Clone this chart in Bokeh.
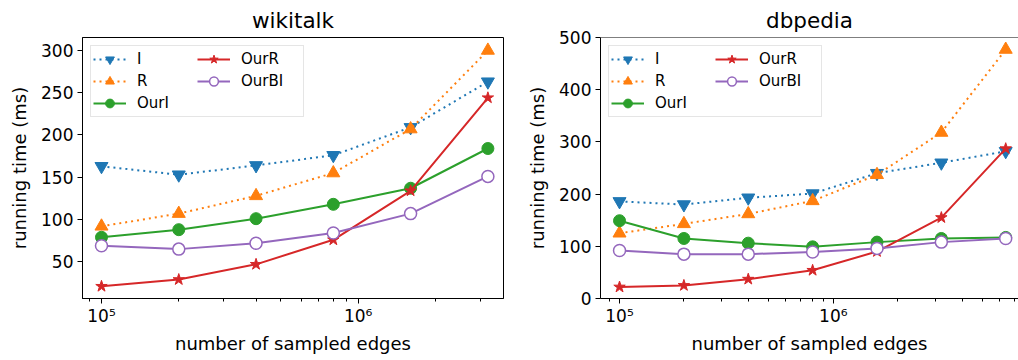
from bokeh.plotting import figure
from bokeh.layouts import row
from bokeh.models import (Range1d, FixedTicker, CustomJSTickFormatter, Legend,
                          LegendItem, Span)
from bokeh.embed import file_html
from bokeh.resources import INLINE

# ---- data -------------------------------------------------------------
wiki_edges = [1e5, 2e5, 4e5, 8e5, 1.6e6, 3.2e6]
wiki_I = [163, 153, 164, 176, 209, 263]
wiki_R = [92, 107, 128, 155, 207, 300]
wiki_OurI = [79, 88, 101, 118, 137, 184]
wiki_OurR = [21, 29, 47, 76, 134, 244]
wiki_OurBI = [69, 65, 72, 84, 107, 151]

dbp_edges = [1e5, 2e5, 4e5, 8e5, 1.6e6, 3.2e6, 6.4e6]
dbp_I = [186, 180, 193, 201, 240, 260, 282]
dbp_R = [125, 143, 162, 187, 237, 318, 477]
dbp_OurI = [149, 115, 106, 99, 108, 115, 117]
dbp_OurR = [22, 25, 37, 54, 90, 155, 287]
dbp_OurBI = [92, 85, 85, 89, 96, 108, 115]

wiki_yticks = [50, 100, 150, 200, 250, 300]
dbp_yticks = [0, 100, 200, 300, 400, 500]
x_major = [1e5, 1e6]
x_minor = [m * 10 ** k for k in (4, 5, 6) for m in range(2, 10)]

FONT = "DejaVu Sans"
BLUE, ORANGE, GREEN, RED, PURPLE = "#1f77b4", "#ff7f0e", "#2ca02c", "#d62728", "#9467bd"

sup_formatter = CustomJSTickFormatter(code="""
    const sup = {'0':'\u2070','1':'\u00b9','2':'\u00b2','3':'\u00b3','4':'\u2074',
                 '5':'\u2075','6':'\u2076','7':'\u2077','8':'\u2078','9':'\u2079'};
    const e = String(Math.round(Math.log10(tick)));
    return '10' + e.split('').map(c => sup[c]).join('');
""")


def panel(title, edges, s_I, s_R, s_OurI, s_OurR, s_OurBI, xr, yr, yticks,
          width, border_left, border_right, clip_right):
    p = figure(width=width, height=360, x_axis_type="log",
               x_range=Range1d(*xr), y_range=Range1d(*yr),
               output_backend="svg", toolbar_location=None,
               min_border_left=border_left, min_border_right=border_right,
               min_border_top=35, min_border_bottom=62)
    p.title.text = title
    p.title.align = "center"
    p.title.text_font = FONT
    p.title.text_font_size = "21.5px"
    p.title.text_font_style = "normal"
    p.title.text_color = "black"
    p.grid.visible = False
    p.background_fill_color = "white"
    p.border_fill_color = "white"

    if clip_right:
        p.outline_line_color = None
        p.add_layout(Span(location=yr[1], dimension="width",
                          line_color="black", line_width=1))
    else:
        p.outline_line_color = "black"
        p.outline_line_width = 1

    p.xaxis.ticker = FixedTicker(ticks=x_major, minor_ticks=x_minor)
    p.xaxis.formatter = sup_formatter
    p.yaxis.ticker = FixedTicker(ticks=yticks)
    p.xaxis.axis_label = "number of sampled edges"
    p.yaxis.axis_label = "running time (ms)"
    for ax in (p.xaxis, p.yaxis):
        ax.axis_line_color = "black"
        ax.axis_line_width = 1
        ax.major_tick_line_color = "black"
        ax.major_tick_out = 5
        ax.major_tick_in = 0
        ax.minor_tick_line_color = "black"
        ax.minor_tick_out = 3
        ax.minor_tick_in = 0
        ax.major_label_text_font = FONT
        ax.major_label_text_font_size = "17px"
        ax.major_label_text_color = "black"
        ax.axis_label_text_font = FONT
        ax.axis_label_text_font_size = "18px"
        ax.axis_label_text_font_style = "normal"
        ax.axis_label_text_color = "black"
    p.yaxis.major_label_standoff = 4
    p.xaxis.major_label_standoff = 2
    p.yaxis.minor_tick_line_color = None
    p.xaxis.axis_label_standoff = 4
    p.yaxis.axis_label_standoff = 8

    specs = [
        ("I", s_I, BLUE, "2 4", "inverted_triangle", 13, True),
        ("R", s_R, ORANGE, "2 4", "triangle", 13, True),
        ("OurI", s_OurI, GREEN, "solid", "circle", 12, True),
        ("OurR", s_OurR, RED, "solid", "star", 12, True),
        ("OurBI", s_OurBI, PURPLE, "solid", "circle", 12, False),
    ]
    items = []
    for name, ys, color, dash, marker, size, filled in specs:
        ln = p.line(edges, ys, line_color=color, line_width=2, line_dash=dash)
        sc = p.scatter(edges, ys, marker=marker, size=size,
                       fill_color=color if filled else "white",
                       line_color=color, line_width=1.5 if not filled else 1)
        items.append(LegendItem(label=name, renderers=[ln, sc]))

    legend = Legend(items=items, location="top_left", orientation="vertical",
                    nrows=3)
    legend.label_text_font = FONT
    legend.label_text_font_size = "15px"
    legend.label_text_color = "black"
    legend.glyph_width = 33
    legend.glyph_height = 22
    legend.label_height = 22
    legend.label_width = 60
    legend.label_standoff = 11
    legend.spacing = 0
    legend.padding = 2
    legend.margin = 8
    legend.border_line_color = "#cccccc"
    legend.border_line_width = 1
    legend.background_fill_alpha = 0.8
    p.add_layout(legend)
    return p


left = panel("wikitalk", wiki_edges, wiki_I, wiki_R, wiki_OurI, wiki_OurR, wiki_OurBI,
             (10 ** 4.926, 10 ** 6.566), (6.6, 315.3), wiki_yticks,
             509, 82, 6, False)
right = panel("dbpedia", dbp_edges, dbp_I, dbp_R, dbp_OurI, dbp_OurR, dbp_OurBI,
              (10 ** 4.911, 10 ** 6.866), (0, 500), dbp_yticks,
              509, 91, 0, True)

layout = row(left, right)
with open("out.html", "w") as f:
    f.write(file_html(layout, INLINE))
